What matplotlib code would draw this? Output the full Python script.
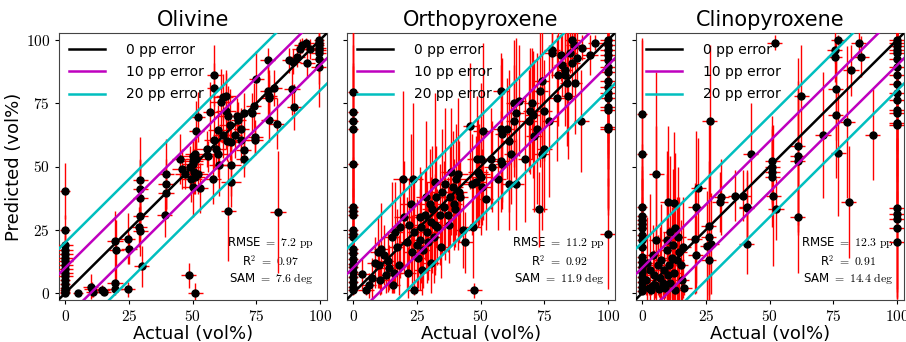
import matplotlib
matplotlib.use("Agg")
import matplotlib.pyplot as plt
from matplotlib.ticker import FuncFormatter
import numpy as np

plt.rcParams['mathtext.fontset'] = 'cm'
plt.rcParams['font.family'] = ['DejaVu Sans']

titles = ["Olivine", "Orthopyroxene", "Clinopyroxene"]
stats = [("7.2", "0.97", "7.6"), ("11.2", "0.92", "11.9"), ("12.3", "0.91", "14.4")]

# ---------------- Olivine ----------------
ol_actual = [0, 0, 0, 0, 0, 0, 0, 0, 0, 0, 0, 0, 0, 0, 0, 0, 0,
             5, 10, 10.5, 11, 14.5, 15, 19.5, 20, 19.5, 19.5, 24.5, 25, 24.5,
             29.5, 29.5, 29.5, 29.5, 29, 29.5, 30, 39.5, 39.5, 39.5, 39,
             45, 46, 47, 48.5, 50, 51, 49, 50, 50, 51, 50.5, 51, 49.5, 52, 50, 51.5,
             51.5, 52, 53, 55.5, 56, 57, 58.5, 58.5, 58.5, 58, 59, 60, 60.5, 60,
             61, 62, 63, 63, 62, 63.5, 64, 64, 64.5, 65, 65, 65, 66.5, 67.5, 68,
             69, 69, 70, 70, 70, 73.5, 74, 74.5, 74.5, 75, 79.5, 80, 79.5, 80, 80,
             82, 83, 83.5, 89, 90, 88, 89.5, 91, 92, 93, 94.5, 95, 96,
             99.5, 99.5, 99.5, 99.5, 99.5, 99.5, 99.5, 99.5]
ol_pred = [40.4, 24.8, 19, 17, 15.5, 14, 12.5, 11, 9.5, 8, 6.5, 5, 3.5, 2, 1, 0.5, 0,
           0, 2.5, 1.5, 0.5, 1, 0.3, 20.5, 17, 4, 1.5, 21.5, 17.5, 1.5,
           44.5, 41, 37.5, 30.5, 26, 24.5, 10.5, 47, 43, 39.5, 31,
           53, 49, 47, 7, 42, 0, 50, 52, 54, 55, 48, 46, 45, 47, 51, 53,
           64, 69.5, 41.5, 57, 54, 71.5, 86, 81, 60.5, 45, 57, 64.5, 50.5, 55,
           75.5, 77.5, 78, 72, 62.5, 60, 32.5, 70, 66.5, 50.5, 44, 59.5, 62.5, 70, 68.5,
           65, 60.5, 71, 56.5, 53, 71, 74, 61.5, 60.5, 84.5, 92, 78, 80, 77, 68.5,
           81, 67, 32, 80.5, 73.5, 92, 91.5, 93.5, 96.5, 98, 99, 91, 96.5,
           100, 99, 98, 97, 96, 95, 92.5, 89.5]
ol_xerr = [2, 2, 3, 3, 3, 3, 3, 3, 3, 3, 3, 2, 2, 2, 2, 2, 2,
           2, 3, 3, 3, 3, 3, 3, 3, 3, 3, 3, 3, 3,
           3, 3, 3, 3, 3, 3, 3, 3, 3, 3, 3,
           3, 4, 4, 3, 4, 3, 4, 4, 4, 4, 4, 4, 4, 4, 4, 4,
           3, 3, 3, 4, 4, 3, 3, 3, 4, 3, 4, 4, 4, 4,
           4, 4, 4, 4, 4, 4, 3, 4, 4, 4, 4, 4, 3, 3, 3,
           3, 3, 3, 3, 3, 3, 3, 3, 3, 3, 3, 3, 3, 3, 3,
           3, 3, 3, 3, 3, 3, 3, 3, 3, 3, 3, 3, 3,
           2, 2, 2, 3, 3, 3, 3, 3]
ol_yerr = [11, 6, 5, 6, 5, 5, 6, 5, 5, 4, 4, 3, 3, 2, 2, 1, 1,
           1, 5, 3, 2, 2, 1, 12, 12, 5, 2, 10, 6, 3,
           17, 12, 15, 10, 8, 10, 8, 14, 10, 8, 9,
           10, 8, 6, 5, 12, 4, 8, 8, 7, 7, 9, 7, 9, 8, 6, 7,
           12, 10, 10, 7, 6, 12, 12, 10, 11, 10, 8, 10, 12, 9,
           13, 9, 10, 15, 9, 8, 20, 12, 14, 12, 10, 8, 9, 7, 7,
           8, 9, 8, 7, 7, 8, 9, 7, 6, 11, 5, 10, 10, 9, 9,
           7, 10, 24, 10, 9, 5, 5, 4, 4, 3, 2, 6, 4,
           1, 2, 3, 4, 5, 8, 10, 16]

# ---------------- Orthopyroxene ----------------
opx_actual = [0, 0, 0, 0, 0, 0, 0, 0, 0, 0, 0, 0, 0, 0, 0, 0, 0, 0, 0, 0, 0,
              100, 100, 100, 100, 100, 100, 100, 100, 100, 100, 100, 100, 100, 100, 100, 100,
              3.5, 5, 6, 7.5, 8.5, 9.5, 10, 10.5, 11, 12, 13, 13.5, 14, 15, 15.5, 16,
              16.5, 17, 18, 18.5, 19.5, 20, 21, 21.5, 22, 22.5, 23, 23.5, 24, 24,
              25, 25.5, 26, 26, 26.5, 27, 27.5, 28, 28.5, 29, 29.5, 30, 30.5, 30.5,
              31, 31.5, 32, 32, 32.5, 33, 34, 34.5, 35, 35.5, 36, 37, 37.5, 38, 38.5,
              39, 39.5, 40, 40.5, 41, 41.5, 42, 43, 44, 46, 46.5, 47, 47.5, 48, 48.5,
              49, 49.5, 50, 50, 50.5, 51, 52, 54, 54.5, 57, 58, 58, 58.5, 58, 58.5,
              60.5, 61, 61, 62, 63, 63, 64, 64, 65, 67.5, 69, 69.5, 70, 71, 70.5, 72,
              73, 73.5, 74, 74, 75, 75, 77, 78, 78, 80, 80.5, 81.5, 82, 83, 83, 84,
              84.5, 85, 86, 86, 86.5, 87, 88, 89.5, 90, 93, 95]
opx_pred = [79.5, 71.6, 68, 64.8, 50.9, 33.8, 32.5, 30.7, 24.8, 23.5, 22.2, 17.5,
            15.6, 13.6, 11.6, 10.3, 8.3, 6.3, 4.4, 2.4, 1,
            100, 98, 96, 94, 92, 89.4, 87.5, 84, 81.5, 79, 77, 73.6, 72.3, 65.7, 64.8, 23.5,
            7.5, 1, 3, 6, 12, 16, 11, 5, 17.5, 15, 7, 12.5, 10, 22, 3, 8,
            24, 18, 11, 26, 45, 30, 20, 8, 27, 35, 16, 45, 24, 1,
            19, 14, 30, 21, 26, 9, 17, 31, 38, 24, 20, 35, 28, 12,
            33, 22, 27, 44, 38, 26, 31, 18, 40, 34, 43, 31, 27, 38, 48,
            42, 35, 33, 45, 47, 40, 38, 25, 20, 66, 43, 26, 1, 44, 53,
            48, 47, 53, 46, 42, 64, 37, 53, 50, 45, 80, 65, 63, 52, 51,
            65, 43, 60, 55, 68, 75, 71, 43, 76, 53, 68, 72, 75, 62, 70.5, 65,
            33, 80, 84, 55, 72, 57, 68, 95, 96, 77, 86, 94, 90, 88, 86, 83,
            78, 95, 100, 91, 98, 83, 93, 68, 97, 94, 99]
opx_xerr = [2] * 21 + [3] * 16 + [
    3, 3, 3, 3, 3, 3, 3, 3, 3, 3, 3, 3, 3, 3, 3, 3,
    3, 3, 3, 3, 4, 4, 3, 3, 3, 4, 3, 4, 3, 3,
    3, 3, 4, 4, 3, 3, 3, 4, 4, 3, 3, 4, 4, 3,
    4, 3, 3, 4, 4, 3, 3, 3, 4, 4, 4, 3, 3, 4, 4,
    4, 3, 3, 4, 4, 3, 3, 3, 3, 3, 4, 3, 3, 4, 4,
    4, 4, 4, 4, 4, 4, 3, 3, 3, 3, 3, 3, 3, 3, 3,
    3, 3, 3, 3, 3, 3, 3, 3, 3, 3, 3, 3, 3, 3, 3, 3,
    3, 3, 3, 3, 3, 3, 3, 3, 3, 3, 3, 3, 3, 3, 3, 3,
    3, 3, 3, 3, 3, 3, 3, 3, 3, 3, 3]
opx_yerr = [45, 35, 30, 25, 40, 20, 18, 22, 15, 18, 12, 14,
            12, 10, 10, 8, 8, 6, 5, 3, 2,
            2, 4, 8, 14, 20, 30, 25, 35, 28, 30, 22, 40, 30, 35, 32, 22,
            6, 2, 5, 8, 10, 14, 9, 6, 18, 12, 7, 12, 9, 22, 3, 8,
            20, 15, 12, 20, 35, 22, 18, 10, 18, 28, 15, 30, 22, 2,
            18, 12, 20, 20, 22, 10, 15, 18, 30, 20, 15, 22, 18, 12,
            25, 18, 20, 35, 20, 15, 20, 12, 25, 18, 30, 15, 15, 20, 25,
            22, 18, 15, 22, 30, 20, 15, 15, 12, 25, 20, 20, 3, 18, 25,
            22, 20, 30, 18, 15, 35, 12, 20, 18, 20, 15, 25, 30, 20, 15,
            20, 18, 28, 20, 22, 25, 30, 18, 22, 25, 20, 25, 22, 30, 25, 30,
            15, 30, 25, 30, 20, 25, 30, 10, 10, 25, 20, 10, 12, 15, 20, 25,
            25, 8, 3, 15, 5, 20, 10, 20, 5, 8, 3]

# ---------------- Clinopyroxene ----------------
cpx_actual = [0, 0, 0, 0, 0, 0, 0, 0, 0, 0, 0, 0, 0, 0, 0, 0, 0, 0,
              100, 100, 100, 100, 100, 100, 100, 100, 100, 100, 100, 100, 100, 100, 100,
              100, 100, 100, 100, 100,
              5.5, 10, 12.5, 20.5, 21, 21, 22, 26, 26, 25.5, 26, 26.5, 27,
              30.5, 31, 36.5, 39.5, 41, 41, 41, 42.5, 51, 51, 51, 51, 51.5, 52.5,
              61, 61, 61, 61, 62.5, 71, 75.5, 75.5, 76, 76, 77, 77, 80.5, 81, 82,
              85, 86, 90.5, 52,
              1.5, 2, 2.5, 3, 3.5, 4, 4.5, 5, 5.5, 6, 6.5, 7, 7.5, 8, 8.5, 9,
              9.5, 10, 10.5, 11, 11.5, 12, 12.5, 13, 13.5, 14, 14.5, 15, 15.5, 16,
              16.5, 11, 13, 9.5]
cpx_pred = [70.7, 55.1, 33.8, 30.3, 28.8, 27.2, 25.5, 22.8, 20.8, 18.2, 14.2,
            12.3, 10.3, 8.3, 6.3, 4.4, 2.4, 0.8,
            100, 99, 97.5, 96, 94.7, 92.5, 89.4, 86, 82.8, 78.9, 76.3, 72.3, 71,
            67.3, 66.4, 33.4, 31.4, 29.4, 25.5, 20.2,
            47.2, 36, 35.6, 21.5, 15, 34, 41.3, 26.5, 22, 18.5, 13, 68, 19.5,
            36, 38, 38.5, 38.5, 34, 33.5, 19.5, 55.1, 52, 50, 48, 46, 38.5, 33,
            58, 54, 52, 30, 78, 62.5, 96, 93.5, 80.5, 70.5, 100, 55.5, 67.5, 36, 88,
            99, 93.5, 62.5, 99,
            5, 12, 2, 9, 1, 15, 7, 3, 21, 11, 1.5, 6, 13, 4, 9, 2,
            17, 7, 11, 4, 14, 19, 8, 1, 13, 22, 16, 11, 5, 18,
            2, 24, 25.5, 21]
cpx_xerr = [2] * 18 + [3] * 20 + [
    3, 3, 3, 3, 3, 3, 3, 3, 3, 3, 3, 3, 3,
    3, 3, 3, 3, 3, 3, 3, 3, 3, 3, 3, 3, 3, 3,
    3, 3, 3, 3, 3, 3, 3, 3, 3, 3, 3, 3, 3, 3, 3,
    3, 3, 3, 3,
    3, 3, 3, 3, 3, 3, 3, 3, 3, 3, 3, 3, 3, 3, 3, 3,
    3, 3, 3, 3, 3, 3, 3, 3, 3, 3, 3, 3, 3, 3,
    3, 3, 3, 3]
cpx_yerr = [30, 45, 25, 20, 20, 18, 20, 15, 15, 12, 12, 10, 10, 8, 6, 5, 3, 1,
            2, 4, 8, 12, 15, 20, 25, 30, 28, 35, 30, 40, 35, 40, 38, 35, 30, 32, 28, 20,
            40, 30, 28, 22, 15, 30, 20, 40, 30, 22, 14, 30, 20,
            12, 15, 10, 10, 14, 15, 12, 20, 18, 15, 12, 20, 28, 12,
            35, 30, 25, 22, 20, 25, 5, 10, 20, 25, 2, 25, 30, 22, 10,
            4, 8, 18, 3,
            6, 18, 3, 30, 2, 12, 10, 5, 45, 12, 3, 20, 22, 6, 15, 4,
            30, 10, 15, 6, 20, 30, 12, 2, 25, 28, 22, 18, 8, 20,
            3, 30, 30, 35]

datasets = [(ol_actual, ol_pred, ol_xerr, ol_yerr),
            (opx_actual, opx_pred, opx_xerr, opx_yerr),
            (cpx_actual, cpx_pred, cpx_xerr, cpx_yerr)]

fig = plt.figure(figsize=(9.06, 3.42), dpi=100)
lefts = [59 / 906, 347 / 906, 636 / 906]
w = 268 / 906
b = 42 / 342
h = 267 / 342

ticks = [0, 25, 50, 75, 100]
fmt = FuncFormatter(lambda v, p: r"$%d$" % v)
line_x = np.array([-10, 110])

for i, (ax_x, ax_y, xe, ye) in enumerate(datasets):
    ax = fig.add_axes([lefts[i], b, w, h])
    ax.errorbar(ax_x, ax_y, xerr=xe, yerr=ye, fmt='o', color='black',
                ecolor='red', elinewidth=1.0, markersize=5, capsize=0, zorder=3)
    ax.plot(line_x, line_x, color='black', lw=1.8, label='0 pp error', zorder=4)
    ax.plot(line_x, line_x + 10, color='m', lw=1.8, label='10 pp error', zorder=4)
    ax.plot(line_x, line_x - 10, color='m', lw=1.8, zorder=4)
    ax.plot(line_x, line_x + 20, color='c', lw=1.8, label='20 pp error', zorder=4)
    ax.plot(line_x, line_x - 20, color='c', lw=1.8, zorder=4)
    ax.set_xlim(-2.5, 102.8)
    ax.set_ylim(-2.8, 102.8)
    ax.set_xticks(ticks)
    ax.set_yticks(ticks)
    ax.xaxis.set_major_formatter(fmt)
    if i == 0:
        ax.yaxis.set_major_formatter(fmt)
        ax.set_ylabel("Predicted (vol%)", fontsize=13, labelpad=2)
    else:
        ax.set_yticklabels([])
    ax.tick_params(labelsize=11, length=3)
    ax.set_xlabel("Actual (vol%)", fontsize=13, labelpad=1)
    ax.set_title(titles[i], fontsize=15, pad=5)
    ax.legend(loc='upper left', frameon=False, fontsize=10, handlelength=2.6,
              handletextpad=1.5, borderaxespad=0.3, labelspacing=0.6)
    r, r2, sam = stats[i]
    ax.text(0.79, 0.215, r"RMSE $=\ %s\ \mathrm{pp}$" % r, transform=ax.transAxes,
            ha='center', va='center', fontsize=8.5, zorder=2)
    ax.text(0.79, 0.145, r"R$^2$ $=\ %s$" % r2, transform=ax.transAxes,
            ha='center', va='center', fontsize=8.5, zorder=2)
    ax.text(0.79, 0.08, r"SAM $=\ %s\ \mathrm{deg}$" % sam, transform=ax.transAxes,
            ha='center', va='center', fontsize=8.5, zorder=2)
    for s in ax.spines.values():
        s.set_color('#444444')

fig.savefig("out.png", dpi=100)
